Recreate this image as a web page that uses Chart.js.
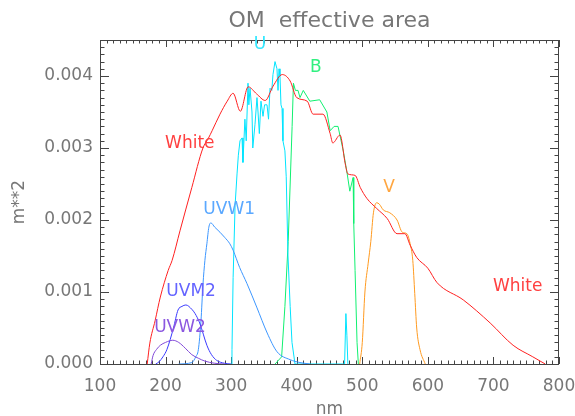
<!DOCTYPE html>
<html>
<head>
<meta charset="utf-8">
<script src="https://cdn.jsdelivr.net/npm/chart.js@4.4.1/dist/chart.umd.min.js"></script>
<style>
  html, body { margin: 0; padding: 0; background: #fff; }
</style>
</head>
<body>
<canvas id="chart" width="575" height="416"></canvas>
<script>
// effective area (m**2) vs wavelength (nm)
const whiteNm = [172, 176, 184, 192, 204, 210, 222, 240, 257, 265, 271, 283, 294, 303, 314, 326, 339, 352, 364, 378, 390, 400, 416, 425, 440, 451, 455, 466, 474, 478, 489, 497, 507, 522, 538, 553, 565, 573, 583, 600, 614, 654, 695, 730, 760, 779];
const whiteArea = [0, 0.00029, 0.0006, 0.00093, 0.0013, 0.00144, 0.00185, 0.00245, 0.003, 0.00313, 0.00324, 0.00347, 0.00365, 0.00376, 0.00351, 0.00385, 0.00375, 0.00366, 0.00386, 0.00402, 0.00393, 0.0037, 0.00365, 0.00347, 0.00347, 0.0032, 0.00307, 0.00318, 0.00278, 0.00264, 0.00262, 0.00245, 0.0023, 0.00216, 0.00202, 0.00181, 0.00181, 0.00165, 0.00148, 0.00133, 0.00113, 0.00089, 0.00057, 0.00026, 0.0001, 0];

const uvw2Nm = [178, 181, 186, 192, 200, 211, 220, 230, 240, 250, 260, 275, 290];
const uvw2Area = [0, 0.00012, 0.0002, 0.00026, 0.0003, 0.00033, 0.0003, 0.00022, 0.00013, 0.00008, 0.00004, 0.00001, 0];

const uvm2Nm = [185, 190, 196, 202, 212, 219, 225, 231, 240, 245, 252, 263, 270, 278, 290, 300];
const uvm2Area = [0, 0.00003, 0.0001, 0.0002, 0.0005, 0.00075, 0.0008, 0.00082, 0.00076, 0.0007, 0.00057, 0.00026, 0.00013, 0.00005, 0.00001, 0];

const uvw1Nm = [220, 240, 246, 250, 254, 257, 260, 263, 266, 269, 275, 283, 290, 298, 303, 313, 324, 339, 355, 370, 390, 405, 420];
const uvw1Area = [0, 0.00002, 0.0001, 0.0002, 0.0006, 0.0011, 0.00144, 0.00167, 0.0019, 0.00196, 0.0019, 0.00183, 0.00176, 0.00167, 0.00158, 0.00134, 0.00112, 0.00079, 0.00043, 0.00017, 0.00006, 0.00002, 0];

const uNm = [300, 301.3, 303, 306, 309, 311, 313.5, 316.6, 318, 321, 323, 325.7, 327, 328.8, 331.8, 333, 336.4, 339.4, 341, 343, 345.5, 348.6, 351, 354.7, 357, 359.3, 362, 363.8, 366.9, 369.9, 371.5, 373, 374.5, 376, 377.6, 379, 382, 384, 386.7, 390, 392.8, 397.4, 473, 475, 476.5, 478];
const uArea = [0, 0.0002, 0.0012, 0.0022, 0.00264, 0.0029, 0.0031, 0.00314, 0.0028, 0.0034, 0.0031, 0.0039, 0.0036, 0.00383, 0.0035, 0.003, 0.00333, 0.0037, 0.0035, 0.0032, 0.00365, 0.00344, 0.0036, 0.0036, 0.0034, 0.00383, 0.0038, 0.00402, 0.0042, 0.0041, 0.0038, 0.0041, 0.004, 0.0036, 0.00355, 0.0031, 0.00296, 0.0026, 0.0015, 0.0008, 0.0003, 0, 0, 0.0007, 0.0004, 0];

const bNm = [367, 377, 382, 387, 390, 393, 395, 398, 402, 405, 410, 420, 435, 446, 451, 457, 463, 471, 477, 481, 486, 487, 489, 492, 494];
const bArea = [0, 0.0001, 0.0008, 0.0017, 0.0025, 0.0033, 0.0039, 0.0038, 0.0038, 0.0037, 0.0038, 0.00365, 0.00367, 0.0035, 0.00324, 0.0033, 0.0033, 0.00296, 0.00264, 0.0024, 0.00259, 0.00195, 0.0013, 0.0003, 0];

const vNm = [496, 500, 504, 509, 513, 517, 522, 526, 532, 542, 553, 561, 568, 573, 577, 580, 583, 588, 596];
const vArea = [0, 0.0003, 0.001, 0.0014, 0.0017, 0.0021, 0.00224, 0.00222, 0.00214, 0.0021, 0.002, 0.00183, 0.00181, 0.00167, 0.00144, 0.00098, 0.0005, 0.0002, 0];

const xTicks = [100, 200, 300, 400, 500, 600, 700, 800];
const yTicks = [0, 0.001, 0.002, 0.003, 0.004];

const pts = (xs, ys) => xs.map((x, i) => ({ x, y: ys[i] }));

const series = [
  { label: 'White', nm: whiteNm, area: whiteArea, color: '#ff2020', smooth: true },
  { label: 'UVW2', nm: uvw2Nm, area: uvw2Area, color: '#8048d8', smooth: true },
  { label: 'UVM2', nm: uvm2Nm, area: uvm2Area, color: '#3a3aff', smooth: true },
  { label: 'UVW1', nm: uvw1Nm, area: uvw1Area, color: '#3c96ff', smooth: true },
  { label: 'U', nm: uNm, area: uArea, color: '#00e4ff', smooth: false },
  { label: 'B', nm: bNm, area: bArea, color: '#10f070', smooth: false },
  { label: 'V', nm: vNm, area: vArea, color: '#ff9a20', smooth: true },
];

// curve labels, placed in data coordinates
const curveLabels = [
  { text: 'U', x: 344, y: 0.00443, color: '#30e8ff' },
  { text: 'B', x: 429, y: 0.00412, color: '#30f080' },
  { text: 'V', x: 541, y: 0.00245, color: '#ffa640' },
  { text: 'White', x: 237, y: 0.00306, color: '#ff4040' },
  { text: 'White', x: 737, y: 0.00107, color: '#ff4040' },
  { text: 'UVW1', x: 297, y: 0.00214, color: '#5aa8ff' },
  { text: 'UVM2', x: 239, y: 0.001, color: '#6464ff' },
  { text: 'UVW2', x: 222, y: 0.00051, color: '#8c58e0' },
];

const FONT = 'DejaVu Sans';
const TEXT = '#777';

// IDL style box with inward ticks on all four sides
const idlFrame = {
  id: 'idlFrame',
  beforeDatasetsDraw(chart) {
    const { ctx, chartArea: a, scales: { x, y } } = chart;
    ctx.save();
    ctx.strokeStyle = '#444';
    ctx.lineWidth = 1;
    ctx.strokeRect(a.left + 0.5, a.top + 0.5, a.right - a.left - 1, a.bottom - a.top);
    ctx.beginPath();
    for (let i = 0; i <= 70; i++) {
      const v = x.min + i * 10;
      const px = Math.round(x.getPixelForValue(v)) + 0.5;
      const len = i % 10 === 0 ? 7 : 3.5;
      ctx.moveTo(px, a.bottom); ctx.lineTo(px, a.bottom - len);
      ctx.moveTo(px, a.top); ctx.lineTo(px, a.top + len);
    }
    for (let i = 0; i <= 45; i++) {
      const py = Math.round(y.getPixelForValue(i * 0.0001)) + 0.5;
      const len = i % 10 === 0 ? 9 : 4.5;
      ctx.moveTo(a.left, py); ctx.lineTo(a.left + len, py);
      ctx.moveTo(a.right, py); ctx.lineTo(a.right - len, py);
    }
    ctx.stroke();
    ctx.restore();
  },
  afterDatasetsDraw(chart) {
    const { ctx, scales: { x, y } } = chart;
    ctx.save();
    ctx.font = '17px "' + FONT + '"';
    ctx.textAlign = 'center';
    ctx.textBaseline = 'middle';
    curveLabels.forEach(l => {
      ctx.fillStyle = l.color;
      ctx.fillText(l.text, x.getPixelForValue(l.x), y.getPixelForValue(l.y));
    });
    ctx.restore();
  }
};

const noPad = s => { s.paddingLeft = 0; s.paddingRight = 0; s.paddingTop = 0; s.paddingBottom = 0; };

new Chart(document.getElementById('chart'), {
  type: 'line',
  data: {
    datasets: series.map(s => ({
      label: s.label,
      data: pts(s.nm, s.area),
      borderColor: s.color,
      borderWidth: 1,
      pointRadius: 0,
      fill: false,
      tension: s.smooth ? 0.3 : 0,
      cubicInterpolationMode: s.smooth ? 'monotone' : 'default',
    })),
  },
  options: {
    responsive: false,
    animation: false,
    layout: { padding: { top: 0, right: 16, bottom: 0, left: 0 } },
    plugins: {
      legend: { display: false },
      tooltip: { enabled: false },
      title: {
        display: true,
        fullSize: false,
        text: 'OM  effective area',
        color: TEXT,
        font: { family: FONT, size: 22, weight: 'normal', lineHeight: 1.2 },
        padding: { top: 8, bottom: 5.6 },
      },
    },
    scales: {
      x: {
        type: 'linear',
        min: 100,
        max: 800,
        grid: { display: false, drawTicks: false },
        border: { display: false },
        afterBuildTicks: s => { s.ticks = xTicks.map(v => ({ value: v })); },
        afterFit: s => { s.height = 52; noPad(s); },
        ticks: {
          color: TEXT,
          font: { family: FONT, size: 17 },
          padding: 12,
          maxRotation: 0,
          callback: v => String(v),
        },
        title: {
          display: true,
          text: 'nm',
          color: TEXT,
          font: { family: FONT, size: 17, lineHeight: 0.8 },
          padding: { bottom: 0 },
        },
      },
      y: {
        type: 'linear',
        min: 0,
        max: 0.0045,
        grid: { display: false, drawTicks: false },
        border: { display: false },
        afterBuildTicks: s => { s.ticks = yTicks.map(v => ({ value: v })); },
        afterFit: s => { s.width = 100; noPad(s); },
        ticks: {
          color: TEXT,
          font: { family: FONT, size: 17 },
          padding: 7,
          callback: v => v.toFixed(3),
        },
        title: {
          display: true,
          text: 'm**2',
          color: TEXT,
          font: { family: FONT, size: 17, lineHeight: 1.2 },
          padding: { top: 9 },
        },
      },
    },
  },
  plugins: [idlFrame],
});
</script>
</body>
</html>
